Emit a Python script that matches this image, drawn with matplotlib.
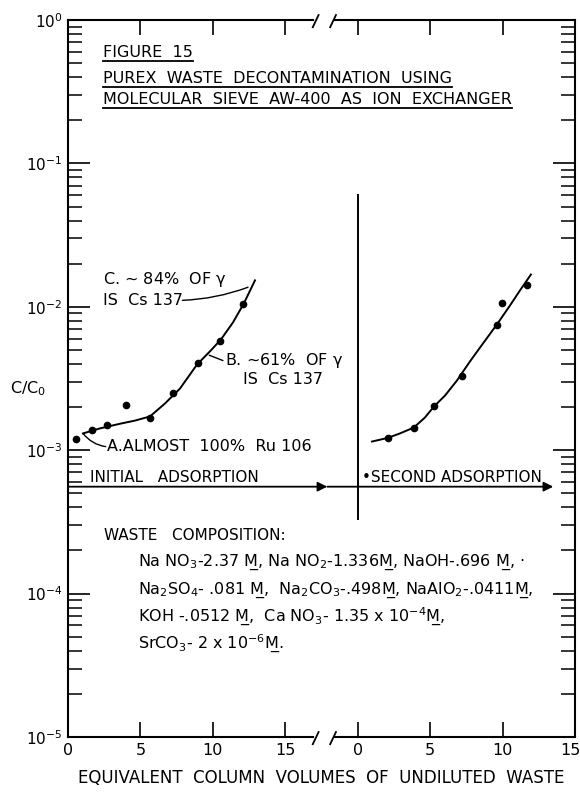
import matplotlib
matplotlib.use("Agg")
import numpy as np
from matplotlib import pyplot as plt
from matplotlib.transforms import ScaledTranslation
from matplotlib.ticker import LogLocator, NullFormatter, FixedLocator, FixedFormatter

plt.rcParams['font.family'] = ['DejaVu Sans']
plt.rcParams['mathtext.default'] = 'regular'

# initial adsorption: column volumes vs C/C0
first_x = [0.55, 1.66, 2.69, 4.00, 5.66, 7.25, 8.97, 10.49, 12.08]
first_c = [1.19e-3, 1.39e-3, 1.51e-3, 2.08e-3, 1.69e-3, 2.49e-3, 4.03e-3, 5.82e-3, 1.05e-2]
first_fit_x = [1.04, 2.21, 3.59, 4.63, 5.66, 6.70, 7.73, 8.91, 9.80, 10.56, 11.39, 12.15, 12.91]
first_fit_c = [1.31e-3, 1.42e-3, 1.53e-3, 1.61e-3, 1.72e-3, 2.12e-3, 2.69e-3, 3.96e-3,
               4.89e-3, 5.92e-3, 7.78e-3, 1.06e-2, 1.53e-2]

# second adsorption (own 0-15 scale)
second_x = [2.07, 3.87, 5.25, 7.18, 9.60, 9.94, 11.67]
second_c = [1.22e-3, 1.44e-3, 2.02e-3, 3.32e-3, 7.53e-3, 1.07e-2, 1.43e-2]
second_fit_x = [0.99, 2.09, 2.92, 3.88, 4.64, 5.27, 6.02, 6.85, 7.75, 8.65, 9.61, 10.51, 11.20, 11.96]
second_fit_c = [1.15e-3, 1.22e-3, 1.31e-3, 1.44e-3, 1.69e-3, 2.02e-3, 2.40e-3, 3.06e-3,
                4.16e-3, 5.55e-3, 7.53e-3, 1.02e-2, 1.30e-2, 1.68e-2]

seg_ticks = [0, 5, 10, 15]
seg_labels = ['0', '5', '10', '15']
OFFSET = 20  # where the second segment starts on the shared axis

composition = [
    "Na NO$_3$-2.37 M\u0332, Na NO$_2$-1.336M\u0332, NaOH-.696 M\u0332, \u00b7",
    "Na$_2$SO$_4$- .081 M\u0332,  Na$_2$CO$_3$-.498M\u0332, NaAlO$_2$-.0411M\u0332,",
    "KOH -.0512 M\u0332,  Ca NO$_3$- 1.35 x 10$^{-4}$M\u0332,",
    "SrCO$_3$- 2 x 10$^{-6}$M\u0332.",
]

fig = plt.figure(figsize=(5.8, 7.92), dpi=100)
ax = fig.add_axes([0.1172, 0.0694, 0.8741, 0.9053])
ax.set_yscale('log')
ax.set_xlim(0, 35)
ax.set_ylim(1e-5, 1)

ax.plot(first_fit_x, first_fit_c, color='black', lw=1.4)
ax.plot(first_x, first_c, 'o', color='black', ms=4.5)
sx = [v + OFFSET for v in second_x]
sfx = [v + OFFSET for v in second_fit_x]
ax.plot(sfx, second_fit_c, color='black', lw=1.4)
ax.plot(sx, second_c, 'o', color='black', ms=4.5)

# ticks
xt = seg_ticks + [t + OFFSET for t in seg_ticks]
ax.xaxis.set_major_locator(FixedLocator(xt))
ax.xaxis.set_major_formatter(FixedFormatter(seg_labels + seg_labels))
ax.yaxis.set_major_locator(LogLocator(base=10, numticks=10))
ax.yaxis.set_minor_locator(LogLocator(base=10, subs=np.arange(2, 10), numticks=10))
ax.yaxis.set_minor_formatter(NullFormatter())
ax.tick_params(axis='x', which='major', direction='in', top=True, bottom=True,
               length=11, width=1.2, labelsize=11.5, pad=4)
ax.tick_params(axis='y', which='major', direction='in', left=True, right=True,
               length=16, width=1.2, labelsize=11, pad=4)
ax.tick_params(axis='y', which='minor', direction='in', left=True, right=True,
               length=10, width=1.1)

for side in ['left', 'right']:
    ax.spines[side].set_linewidth(1.5)
ax.spines['top'].set_visible(False)
ax.spines['bottom'].set_visible(False)

# broken top and bottom spines
tr = ax.get_xaxis_transform()
brk_lo, brk_hi = 16.9, 18.4
for yb in [0, 1]:
    ax.plot([0, brk_lo], [yb, yb], color='black', lw=1.5, transform=tr, clip_on=False)
    ax.plot([brk_hi, 35], [yb, yb], color='black', lw=1.5, transform=tr, clip_on=False)
    for xs in [brk_lo, brk_hi - 0.3]:
        ax.plot([xs, xs + 0.4], [yb - 0.010, yb + 0.007], color='black', lw=1.3,
                transform=tr, clip_on=False)

# separator and adsorption arrows
ax.plot([OFFSET, OFFSET], [3.33e-4, 0.060], color='black', lw=1.4)
y_arrow = 5.57e-4
ax.annotate('', xy=(17.9, y_arrow), xytext=(0, y_arrow),
            arrowprops=dict(arrowstyle='-|>', color='black', lw=1.3,
                            mutation_scale=14, shrinkA=0, shrinkB=0))
ax.annotate('', xy=(33.5, y_arrow), xytext=(17.9, y_arrow),
            arrowprops=dict(arrowstyle='-|>', color='black', lw=1.3,
                            mutation_scale=14, shrinkA=0, shrinkB=0))
ax.text(1.5, 6.5e-4, "INITIAL   ADSORPTION", fontsize=11, va='center', ha='left')
ax.text(20.3, 6.5e-4, "\u2022SECOND ADSORPTION", fontsize=11, va='center', ha='left')

# annotations
fs_ann = 11.5
ax.text(2.42, 1.55e-2, "C. ~ 84%  OF $\\gamma$", fontsize=fs_ann, va='center')
ax.text(2.42, 1.11e-2, "IS  Cs 137", fontsize=fs_ann, va='center')
ax.annotate('', xy=(12.43, 1.37e-2), xytext=(7.9, 1.11e-2),
            arrowprops=dict(arrowstyle='-', color='black', lw=1.0,
                            connectionstyle='arc3,rad=0.08', shrinkA=0, shrinkB=0))
ax.text(10.84, 4.22e-3, "B. ~61%  OF $\\gamma$", fontsize=fs_ann, va='center')
ax.text(12.08, 3.11e-3, "IS  Cs 137", fontsize=fs_ann, va='center')
ax.annotate('', xy=(9.75, 4.6e-3), xytext=(10.7, 4.22e-3),
            arrowprops=dict(arrowstyle='-', color='black', lw=1.0, shrinkA=0, shrinkB=0))
ax.text(2.69, 1.06e-3, "A.ALMOST  100%  Ru 106", fontsize=fs_ann, va='center')
ax.annotate('', xy=(1.04, 1.31e-3), xytext=(2.6, 1.06e-3),
            arrowprops=dict(arrowstyle='-', color='black', lw=1.0,
                            connectionstyle='arc3,rad=-0.2', shrinkA=0, shrinkB=0))

# title block (underlined); baseline and underline rows in pixels from the top
titles = [("FIGURE  15", 57, 61), ("PUREX  WASTE  DECONTAMINATION  USING", 83, 87),
          ("MOLECULAR  SIEVE  AW-400  AS  ION  EXCHANGER", 104, 108)]


def frac(py):
    return 1 - (py - 20) / 716


title_objs = []
for s, base, und in titles:
    t = ax.text(0.069, frac(base), s, transform=ax.transAxes, fontsize=11.5,
                va='baseline', ha='left')
    title_objs.append((t, und))

ax.text(0.072, frac(535), "WASTE   COMPOSITION:", transform=ax.transAxes,
        fontsize=11, va='center', ha='left')
for i, line in enumerate(composition):
    ax.text(0.139, frac(562 + 27 * i), line, transform=ax.transAxes,
            fontsize=11.5, va='center', ha='left')

ax.text(-0.079, 0.486, "C/C$_0$", transform=ax.transAxes, fontsize=11.5,
        va='center', ha='center')
ax.set_xlabel("EQUIVALENT  COLUMN  VOLUMES  OF  UNDILUTED  WASTE", fontsize=12,
              labelpad=8)

# keep the last "15" inside the figure
last = ax.get_xticklabels()[-1]
last.set_transform(last.get_transform() + ScaledTranslation(-0.05, 0, fig.dpi_scale_trans))

fig.canvas.draw()
renderer = fig.canvas.get_renderer()
inv = ax.transAxes.inverted()
for t, und in title_objs:
    bb = t.get_window_extent(renderer)
    x0 = inv.transform([bb.x0, bb.y0])[0]
    x1 = inv.transform([bb.x1, bb.y0])[0]
    ax.plot([x0, x1], [frac(und), frac(und)], color='black', lw=1.3, transform=ax.transAxes)

fig.savefig("out.png", dpi=100)
